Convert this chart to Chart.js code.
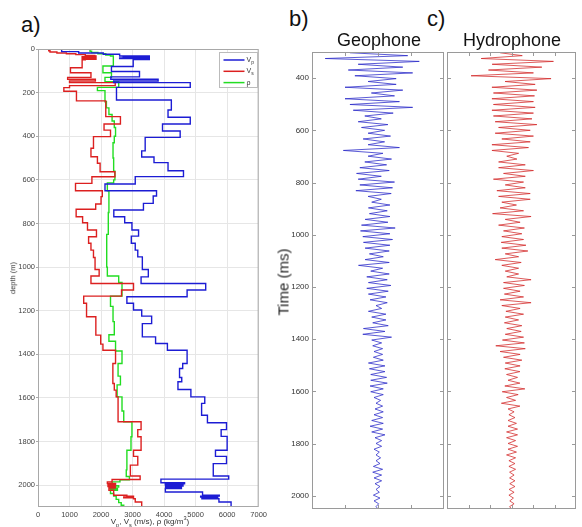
<!DOCTYPE html>
<html>
<head>
<meta charset="utf-8">
<script src="https://cdn.jsdelivr.net/npm/chart.js@4.4.1/dist/chart.umd.min.js"></script>
<style>
  body { margin: 0; background: #fff; font-family: "Liberation Sans", Arial, sans-serif; }
  #page { position: relative; width: 582px; height: 527px; overflow: hidden; }
  canvas, .lbl { position: absolute; }
  .lbl { line-height: 1; white-space: nowrap; color: #111; }
  .panel { font-size: 22px; }
  .title { font-size: 18px; transform: translateX(-50%); }
  .rot { transform: translate(-50%, -50%) rotate(-90deg); }
  sub, sup { font-size: 70%; line-height: 0; }
</style>
</head>
<body>
<div id="page">
  <canvas id="logs" width="270" height="487" style="left:0;top:40px"></canvas>
  <canvas id="geo" width="176" height="487" style="left:270px;top:40px"></canvas>
  <canvas id="hydro" width="136" height="487" style="left:446px;top:40px"></canvas>

  <div class="lbl panel" style="left:21px;top:14px">a)</div>
  <div class="lbl panel" style="left:289px;top:8px">b)</div>
  <div class="lbl panel" style="left:427px;top:8px">c)</div>
  <div class="lbl title" style="left:379px;top:31px">Geophone</div>
  <div class="lbl title" style="left:512px;top:31px">Hydrophone</div>
  <div class="lbl rot" style="left:283px;top:282px;font-size:15px;color:#222">Time (ms)</div>
  <div class="lbl rot" style="left:13px;top:278px;font-size:7.5px;color:#333">depth (m)</div>
  <div class="lbl" style="left:150px;top:518px;font-size:8px;color:#333;transform:translateX(-50%)">V<sub>p</sub>, V<sub>s</sub> (m/s), &rho; (kg/m<sup>3</sup>)</div>
</div>

<script>
// ---- well logs: layer top depth (m) and value within the layer ----
const vpDepth = [0, 12, 18, 24, 32, 35, 38, 41, 44, 48, 80, 103, 128, 139, 147, 154, 176, 234, 280, 313, 344, 376, 405, 467, 495, 521, 558, 585, 619, 650, 674, 708, 738, 769, 797, 830, 858, 891, 922, 953, 1011, 1045, 1075, 1105, 1136, 1166, 1197, 1225, 1259, 1320, 1350, 1381, 1442, 1465, 1506, 1526, 1561, 1595, 1625, 1679, 1714, 1745, 1776, 1840, 1868, 1901, 1958, 1972, 1989, 1994, 1999, 2004, 2009, 2015, 2031, 2046, 2050, 2054, 2058, 2062, 2077, 2100];
const vpValue = [750, 1290, 2070, 2590, 3530, 2700, 3530, 2590, 3530, 3020, 2330, 3220, 2310, 3810, 2400, 4830, 2490, 4230, 4125, 4830, 3950, 4510, 3400, 3290, 3680, 4125, 4615, 3085, 2125, 3760, 3655, 3345, 2405, 2750, 2980, 3190, 2960, 3085, 3165, 3310, 3500, 3270, 5320, 4730, 2820, 3030, 3290, 3605, 3310, 3730, 4105, 4730, 4590, 4490, 4560, 4440, 4850, 5290, 5190, 5375, 5980, 5810, 6000, 5630, 5980, 5560, 6050, 3900, 4650, 4040, 4600, 4050, 4550, 4040, 5220, 5750, 5160, 5700, 5200, 5740, 6125, 6125];

const vsDepth = [0, 8, 14, 18, 22, 26, 30, 32, 35, 38, 41, 44, 47, 50, 86, 109, 130, 139, 147, 154, 168, 177, 194, 238, 310, 344, 372, 402, 455, 494, 524, 563, 586, 616, 650, 677, 711, 735, 769, 797, 830, 861, 891, 922, 956, 1011, 1041, 1075, 1105, 1133, 1166, 1228, 1312, 1353, 1381, 1442, 1534, 1564, 1595, 1709, 1745, 1778, 1840, 1868, 1908, 1958, 1974, 1985, 1992, 1999, 2006, 2013, 2023, 2046, 2050, 2054, 2058, 2062, 2077, 2100];
const vsValue = [340, 380, 600, 900, 1200, 1500, 1800, 1840, 1400, 1840, 1400, 1840, 1500, 1400, 1030, 1680, 940, 1820, 1000, 2450, 1000, 820, 1220, 2150, 2615, 2095, 2300, 1760, 1680, 1885, 1970, 2440, 1710, 1190, 2040, 2000, 1830, 1210, 1415, 1570, 1855, 1605, 1680, 1760, 1810, 1940, 1680, 3030, 2650, 1450, 1540, 1835, 1990, 2060, 2460, 2375, 2420, 2480, 2540, 3270, 3165, 3270, 3030, 3165, 2930, 3240, 2350, 2200, 2460, 2220, 2450, 2250, 2400, 2820, 3030, 2720, 3030, 3085, 3290, 3290];

const rhoDepth = [0, 10, 16, 22, 28, 32, 78, 109, 130, 150, 176, 191, 242, 270, 300, 330, 360, 400, 430, 500, 560, 600, 614, 650, 750, 850, 1000, 1041, 1070, 1133, 1180, 1250, 1310, 1340, 1385, 1442, 1500, 1540, 1595, 1660, 1709, 1778, 1840, 1930, 1960, 1975, 1985, 1995, 2002, 2009, 2016, 2023, 2038, 2050, 2065, 2080, 2092, 2100];
const rhoValue = [1650, 1700, 1900, 2150, 2300, 2390, 2060, 2330, 2125, 2560, 1885, 2125, 2170, 2250, 2350, 2420, 2460, 2420, 2380, 2400, 2440, 2400, 2200, 2250, 2230, 2180, 2200, 2560, 2665, 2300, 2380, 2420, 2250, 2460, 2665, 2540, 2615, 2510, 2665, 2720, 2980, 2950, 2820, 2800, 2900, 2600, 2350, 2250, 2560, 2280, 2520, 2300, 2400, 2480, 2560, 2640, 2720, 2720];

const depthTicks = [0, 200, 400, 600, 800, 1000, 1200, 1400, 1600, 1800, 2000];
const velocityTicks = [0, 1000, 2000, 3000, 4000, 5000, 6000, 7000];

// ---- seismograms: successive peak/trough amplitudes, one every sampleStep ms ----
const sampleStart = 303;
const sampleStep = 11;
const geophoneAmp = [
  -0.85, 0.9, -1.6, 1.25, -0.6, 0.75, -0.9, 1.05, -0.7, 0.55,
  -0.3, 0.55, -1.0, 0.75, -0.2, 0.5, -1.0, 0.65, -0.85, 1.05,
  -0.75, 0.46, -0.4, 0.1, -0.6, 0.3, -0.5, 0.2, -0.3, 0.38,
  -0.45, 0.2, -0.3, 0.65, -1.05, 0.15, -0.3, 0.41, -0.4, 0.26,
  -0.55, 0.34, -0.65, 0.1, -0.6, 0.5, -0.55, 0.44, -0.67, 0.4,
  -0.3, 0.1, -0.19, 0.36, -0.29, 0.28, -0.26, 0.36, -0.39, 0.3,
  -0.5, 0.52, -0.53, 0.36, -0.46, 0.44, -0.44, 0.36, -0.39, 0.34,
  -0.26, 0.16, -0.39, 0.34, -0.59, 0.14, -0.22, 0.34, -0.34, 0.28,
  -0.29, 0.39, -0.34, 0.31, -0.29, 0.24, -0.24, 0.28, -0.06, 0.11,
  -0.29, 0.24, -0.19, 0.24, -0.16, 0.31, -0.44, 0.21, -0.46, 0.41,
  -0.19, 0.11, -0.16, 0.14, -0.12, 0.14, -0.14, 0.16, -0.29, 0.21,
  -0.26, 0.21, -0.22, 0.26, -0.22, 0.28, -0.24, 0.16, -0.22, 0.16,
  -0.12, 0.08, -0.06, 0.14, -0.09, 0.16, -0.12, 0.14, -0.19, 0.16,
  -0.24, 0.14, -0.19, 0.21, -0.09, 0.11, -0.06, 0.11, -0.12, 0.04,
  -0.06, 0.08, -0.06, 0.06, -0.14, 0.14, -0.16, 0.11, -0.12, 0.11,
  -0.09, 0.06, -0.06, 0.04, -0.14, 0.06, -0.12, 0.02, -0.06, 0.02
];
const hydrophoneAmp = [
  -0.53, 0.5, -1.41, 1.95, -0.9, 1.41, -1.07, 1.02, -1.88, 1.84,
  -0.3, 1.1, -0.91, 1.18, -0.84, 1.07, -0.91, 1.02, -0.84, 1.1,
  -0.91, 1.02, -0.84, 0.95, -0.76, 1.18, -0.6, 0.87, -0.76, 1.02,
  -0.45, 0.87, -0.91, 0.79, -0.91, 0.33, -0.22, 0.25, -0.6, 0.64,
  -0.6, 1.02, -0.37, 0.64, -0.84, 0.56, -0.29, 0.64, -0.68, 0.87,
  -0.6, 0.87, -0.45, 0.23, -0.53, 0.56, -0.88, 0.91, -0.29, 0.4,
  -0.6, 0.6, -0.37, 0.48, -0.45, 0.56, -0.48, 0.67, -0.45, 0.76,
  -0.29, 0.33, -0.76, 0.45, -0.45, 0.33, -0.29, 0.33, -0.22, 0.91,
  -0.37, 0.6, -0.37, 0.4, -0.33, 0.56, -0.53, 0.91, -0.45, 0.4,
  -0.26, 0.56, -0.29, 0.33, -0.33, 0.48, -0.22, 0.45, -0.29, 0.56,
  -0.42, 0.6, -0.73, 0.64, -0.53, 0.4, -0.37, 0.48, -0.29, 0.4,
  -0.31, 0.39, -0.23, 0.28, -0.16, 0.39, -0.31, 0.62, -0.43, 0.31,
  -0.23, 0.19, -0.47, 0.39, -0.16, 0.12, -0.12, 0.16, -0.16, 0.23,
  -0.16, 0.28, -0.23, 0.28, -0.23, 0.19, -0.16, 0.28, -0.16, 0.23,
  -0.23, 0.19, -0.12, 0.16, -0.12, 0.19, -0.09, 0.12, -0.09, 0.16,
  -0.08, 0.16, -0.11, 0.12, -0.12, 0.09, -0.08, 0.12, -0.09, 0.03
];
const timeTicks = [400, 600, 800, 1000, 1200, 1400, 1600, 1800, 2000];
const geoAmpTicks = [-1, 0, 1];
const hydroAmpTicks = [-2, -1, 0, 1, 2];

const FONT = '"Liberation Sans", Arial, sans-serif';

function layerPoints(depths, values) {
  return depths.map((d, i) => ({ x: values[i], y: d }));
}

function tracePoints(amps) {
  return amps.map((a, i) => ({ x: a, y: sampleStart + i * sampleStep }));
}

function fixedTicks(list) {
  return scale => { scale.ticks = list.map(v => ({ value: v })); };
}

// plain numbers, no thousands separator
const plainLabel = v => String(v);

// grey frame round the plot area, optionally with short inward ticks on all sides
const framePlugin = {
  id: 'frame',
  afterDraw(chart, args, opts) {
    const { ctx, chartArea: a, scales } = chart;
    ctx.save();
    ctx.strokeStyle = opts.color;
    ctx.lineWidth = 1;
    ctx.strokeRect(a.left + 0.5, a.top + 0.5, a.right - a.left - 1, a.bottom - a.top - 1);
    if (opts.xTicks) {
      const len = 4;
      ctx.beginPath();
      timeTicks.forEach(v => {
        const py = Math.round(scales.y.getPixelForValue(v)) + 0.5;
        ctx.moveTo(a.left, py); ctx.lineTo(a.left + len, py);
        ctx.moveTo(a.right, py); ctx.lineTo(a.right - len, py);
      });
      opts.xTicks.forEach(v => {
        const px = Math.round(scales.x.getPixelForValue(v)) + 0.5;
        ctx.moveTo(px, a.top); ctx.lineTo(px, a.top + len);
        ctx.moveTo(px, a.bottom); ctx.lineTo(px, a.bottom - len);
      });
      ctx.stroke();
    }
    ctx.restore();
  }
};

// small legend box in the top right corner of the log panel
const logLegend = {
  id: 'logLegend',
  afterDraw(chart) {
    const { ctx, chartArea: a } = chart;
    const w = 38, h = 35;
    const x0 = Math.round(a.right - w - 2) + 0.5, y0 = Math.round(a.top + 3) + 0.5;
    ctx.save();
    ctx.fillStyle = '#fff';
    ctx.fillRect(x0, y0, w, h);
    ctx.strokeStyle = '#bbb';
    ctx.lineWidth = 1;
    ctx.strokeRect(x0, y0, w, h);
    chart.data.datasets.forEach((ds, i) => {
      const y = y0 + 7.5 + i * 11.3;
      ctx.strokeStyle = ds.borderColor;
      ctx.lineWidth = 1.5;
      ctx.beginPath();
      ctx.moveTo(x0 + 4, y);
      ctx.lineTo(x0 + 25, y);
      ctx.stroke();
      const [main, sub] = ds.label.split('_');
      ctx.fillStyle = '#333';
      ctx.textBaseline = 'alphabetic';
      ctx.font = '7px ' + FONT;
      ctx.fillText(main, x0 + 27, y + 2);
      if (sub) {
        const mw = ctx.measureText(main).width;
        ctx.font = '5px ' + FONT;
        ctx.fillText(sub, x0 + 27 + mw, y + 4);
      }
    });
    ctx.restore();
  }
};

function logDataset(label, color, depths, values) {
  return {
    label: label,
    data: layerPoints(depths, values),
    borderColor: color,
    borderWidth: 1.4,
    pointRadius: 0,
    stepped: 'after',
    fill: false
  };
}

new Chart(document.getElementById('logs'), {
  type: 'line',
  data: {
    datasets: [
      logDataset('V_p', '#1c1cd4', vpDepth, vpValue),
      logDataset('V_s', '#dc2020', vsDepth, vsValue),
      logDataset('\u03c1', '#22dd22', rhoDepth, rhoValue)
    ]
  },
  options: {
    responsive: false,
    animation: false,
    layout: { padding: { top: 9, right: 7, left: 0, bottom: 0 }, autoPadding: false },
    plugins: {
      legend: { display: false },
      tooltip: { enabled: false },
      frame: { color: '#a8a8a8' }
    },
    scales: {
      x: {
        type: 'linear',
        min: 0,
        max: 7000,
        afterBuildTicks: fixedTicks(velocityTicks),
        afterFit: s => { s.height = 20; },
        grid: { color: '#e6e6e6', drawTicks: false },
        border: { display: false },
        ticks: { font: { family: FONT, size: 7.5 }, color: '#444', padding: 3, maxRotation: 0, callback: plainLabel }
      },
      y: {
        type: 'linear',
        reverse: true,
        min: 0,
        max: 2100,
        afterBuildTicks: fixedTicks(depthTicks),
        afterFit: s => { s.width = 38; },
        grid: { color: '#e6e6e6', tickColor: '#aaa', tickLength: 2 },
        border: { display: false },
        ticks: { font: { family: FONT, size: 7.5 }, color: '#444', padding: 1, callback: plainLabel }
      }
    }
  },
  plugins: [framePlugin, logLegend]
});

function traceChart(id, amps, color, range, ampTicks, showTime, padding) {
  const yAxis = {
    type: 'linear',
    reverse: true,
    min: 300,
    max: 2050,
    display: showTime,
    afterBuildTicks: fixedTicks(timeTicks),
    grid: { display: false, drawTicks: false },
    border: { display: false },
    ticks: { font: { family: FONT, size: 8 }, color: '#333', padding: 3, callback: plainLabel }
  };
  if (showTime) yAxis.afterFit = s => { s.width = 42; };

  new Chart(document.getElementById(id), {
    type: 'line',
    data: {
      datasets: [{
        data: tracePoints(amps),
        borderColor: color,
        borderWidth: 0.9,
        pointRadius: 0,
        fill: false
      }]
    },
    options: {
      responsive: false,
      animation: false,
      layout: { padding: padding, autoPadding: false },
      plugins: {
        legend: { display: false },
        tooltip: { enabled: false },
        frame: { color: '#9a9a9a', xTicks: ampTicks }
      },
      scales: {
        x: { type: 'linear', min: -range, max: range, display: false },
        y: yAxis
      }
    },
    plugins: [framePlugin]
  });
}

traceChart('geo', geophoneAmp, 'rgba(40,40,200,0.85)', 2, geoAmpTicks, true,
  { top: 12, right: 2, left: 0, bottom: 18 });
traceChart('hydro', hydrophoneAmp, 'rgba(210,40,40,0.85)', 3, hydroAmpTicks, false,
  { top: 12, right: 6, left: 1, bottom: 18 });
</script>
</body>
</html>
